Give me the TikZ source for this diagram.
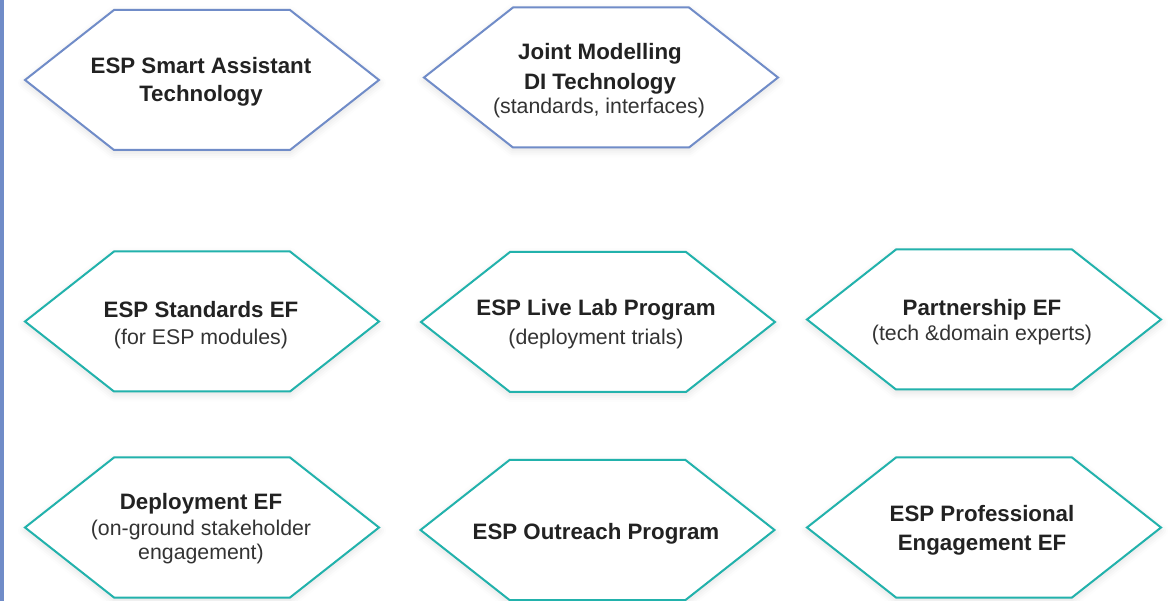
\documentclass[tikz,border=0pt]{standalone}
\usepackage{fontspec}
\setmainfont{Liberation Sans}
\usetikzlibrary{shadows.blur}
\definecolor{hexblue}{HTML}{708CC8}
\definecolor{hexteal}{HTML}{22B2AC}
\definecolor{txtdark}{HTML}{222222}
\definecolor{txtsub}{HTML}{333333}
\tikzset{
  hexshape/.style={line width=2pt, fill=white, line join=miter,
    blur shadow={shadow xshift=0pt, shadow yshift=-3pt, shadow blur radius=7pt, shadow opacity=12}},
  ttl/.style={anchor=base, text=txtdark, inner sep=0pt, font=\bfseries\fontsize{22.3}{26}\selectfont},
  subl/.style={anchor=base, text=txtsub, inner sep=0pt, font=\fontsize{21.3}{25}\selectfont},
}
\newcommand{\hexpath}[3]{% cx cy color
  \path[hexshape, draw=#3] (#1-177,#2) -- (#1-88,#2-70) -- (#1+88,#2-70) -- (#1+177,#2) -- (#1+88,#2+70) -- (#1-88,#2+70) -- cycle;}
\begin{document}
\begin{tikzpicture}[x=1pt,y=-1pt]
\useasboundingbox (0,0) rectangle (1176,601);
\fill[hexblue] (0,0) rectangle (4,601);
% row 1
\hexpath{202}{80}{hexblue}
\node[ttl] (h1a) at (201,74) {ESP Smart Assistant};
\node[ttl] (h1b) at (201,102) {Technology};
\hexpath{601}{77.5}{hexblue}
\node[ttl] (h2a) at (600,60) {Joint Modelling};
\node[ttl] (h2b) at (600,89.3) {DI Technology};
\node[subl] (h2c) at (599,113.3) {(standards, interfaces)};
% row 2
\hexpath{202}{321.5}{hexteal}
\node[ttl] (h3a) at (201,317.7) {ESP Standards EF};
\node[subl] (h3b) at (201,345) {(for ESP modules)};
\hexpath{598}{322}{hexteal}
\node[ttl] (h4a) at (596,316) {ESP Live Lab Program};
\node[subl] (h4b) at (596,345) {(deployment trials)};
\hexpath{984}{319.5}{hexteal}
\node[ttl] (h5a) at (982,316) {Partnership EF};
\node[subl] (h5b) at (982,341) {(tech \&domain experts)};
% row 3
\hexpath{202}{527.5}{hexteal}
\node[ttl] (h6a) at (201,510) {Deployment EF};
\node[subl] (h6b) at (201,535) {(on-ground stakeholder};
\node[subl] (h6c) at (201,559.3) {engagement)};
\hexpath{597.5}{530}{hexteal}
\node[ttl] (h7a) at (596,539.3) {ESP Outreach Program};
\hexpath{984}{527.5}{hexteal}
\node[ttl] (h8a) at (982,521.7) {ESP Professional};
\node[ttl] (h8b) at (982,550.7) {Engagement EF};
\end{tikzpicture}
\end{document}
